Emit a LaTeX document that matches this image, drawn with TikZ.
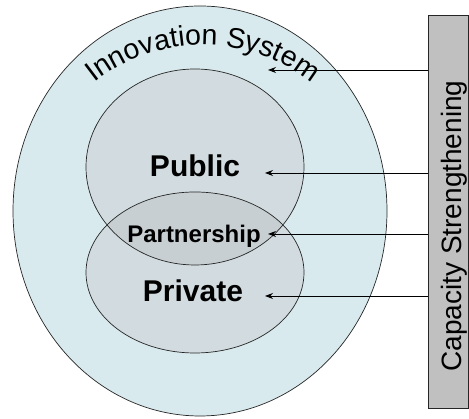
\documentclass[tikz,border=0pt]{standalone}
\usepackage{fontspec}
\newfontfamily\arialfont{Liberation Sans}
\usetikzlibrary{arrows.meta,decorations.text,positioning}
\definecolor{sysblue}{RGB}{216,234,238}
\definecolor{pppgray}{RGB}{210,220,224}
\definecolor{lensgray}{RGB}{200,207,211}
\definecolor{capgray}{RGB}{192,192,192}

\begin{document}
\begin{tikzpicture}[x=1pt,y=1pt,
  ring/.style={draw=black!85,line width=0.7pt},
  sector/.style={font=\arialfont\bfseries\fontsize{30}{30}\selectfont,anchor=base},
  feed/.style={-{Stealth[length=8pt,width=6pt]},line width=0.9pt}]
  \useasboundingbox (0,0) rectangle (469,419);
  % innovation system
  \draw[ring,fill=sysblue] (200,208) ellipse [x radius=187,y radius=205];
  % public and private
  \fill[pppgray] (195,252) ellipse [x radius=109,y radius=98];
  \fill[pppgray] (195,146.5) ellipse [x radius=109,y radius=80.5];
  \begin{scope}
    \clip (195,252) ellipse [x radius=109,y radius=98];
    \fill[lensgray] (195,146.5) ellipse [x radius=109,y radius=80.5];
  \end{scope}
  \draw[ring] (195,252) ellipse [x radius=109,y radius=98];
  \draw[ring] (195,146.5) ellipse [x radius=109,y radius=80.5];
  % label on the arc
  \path[decorate,decoration={text along path,text align=center,
    text={|\arialfont\fontsize{28.5}{28.5}\selectfont|Innovation System}}]
    (51.4,286.5) arc [start angle=150,end angle=30,radius=175];
  \node[sector] (pub) at (195,242) {Public};
  \node[sector] (priv) at (193,117) {Private};
  \node[sector,font=\arialfont\bfseries\fontsize{24}{24}\selectfont] (part) at (194,176) {Partnership};
  % capacity strengthening
  \node[draw=black!85,fill=capgray,line width=0.7pt,minimum width=40.5,
    minimum height=393,inner sep=0,outer sep=0] (cap) at (448.3,207.5) {};
  \node[rotate=90,anchor=base,font=\arialfont\fontsize{28}{28}\selectfont]
    (captext) at (461,193) {Capacity Strengthening};
  \coordinate (sysin) at (268,349);
  \coordinate (pubin) at (265,246);
  \coordinate (partin) at (268,185);
  \coordinate (privin) at (265,123);
  \path[feed]
    (cap.west |- sysin) edge (sysin)
    (cap.west |- pubin) edge (pubin)
    (cap.west |- partin) edge (partin)
    (cap.west |- privin) edge (privin);
\end{tikzpicture}
\end{document}
